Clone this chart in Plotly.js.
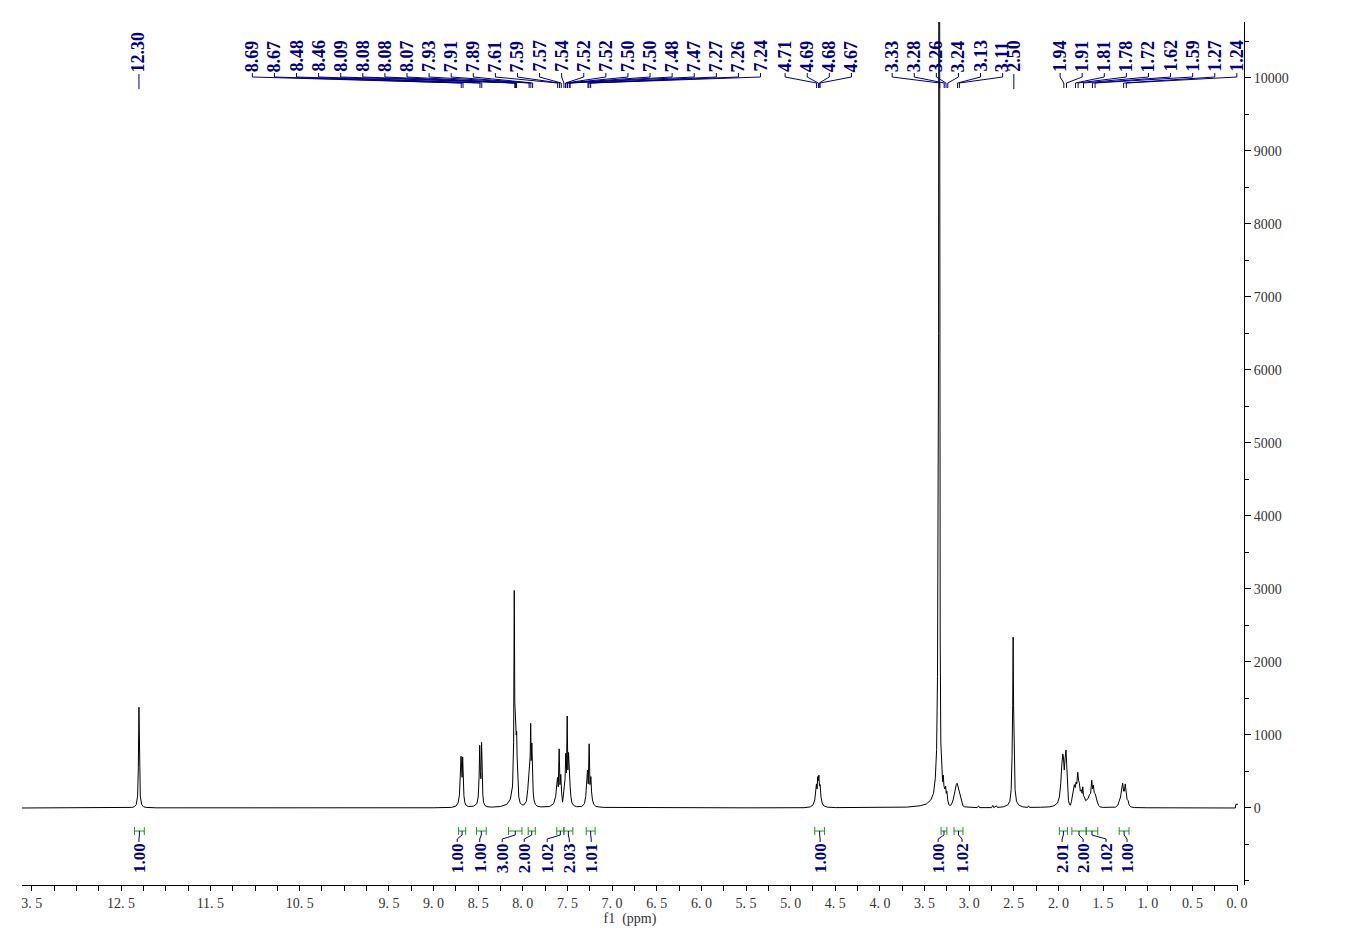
<!DOCTYPE html>
<html>
<head>
<meta charset="utf-8">
<script src="https://cdn.plot.ly/plotly-3.0.1.min.js"></script>
<style>html,body{margin:0;padding:0;background:#fff;}#chart{width:1348px;height:952px;}</style>
</head>
<body>
<div id="chart"></div>
<script>
// ---- spectrum data: [ppm, intensity] ----
const sig12 = [[13.61,0],[12.45,2],[12.38,8],[12.35,18],[12.33,48],[12.315,165],[12.307,550],[12.30,1380],[12.293,550],[12.285,165],[12.27,48],[12.25,18],[12.22,8],[12.10,2]];
const sigArom = [[9.00,3],[8.80,8],[8.75,25],[8.725,70],[8.71,180],[8.70,420],[8.692,710],[8.686,560],[8.68,420],[8.674,700],[8.668,420],[8.66,170],[8.65,75],[8.635,35],[8.61,20],
[8.55,25],[8.515,60],[8.50,150],[8.49,420],[8.483,860],[8.477,500],[8.47,400],[8.462,900],[8.456,500],[8.448,180],[8.44,80],[8.425,35],[8.40,18],[8.35,12],
[8.25,20],[8.18,50],[8.14,120],[8.115,300],[8.103,900],[8.096,2980],[8.090,1450],[8.085,1320],[8.079,1330],[8.074,1000],[8.069,1050],[8.064,700],[8.055,300],[8.045,150],[8.03,70],[8.01,45],
[7.99,40],[7.96,90],[7.945,250],[7.935,430],[7.928,450],[7.918,700],[7.912,1160],[7.906,650],[7.899,890],[7.892,450],[7.884,220],[7.875,110],[7.86,50],[7.84,25],[7.80,15],
[7.70,20],[7.655,60],[7.632,160],[7.62,300],[7.612,420],[7.603,290],[7.593,810],[7.584,320],[7.575,460],[7.566,220],[7.555,80],[7.545,180],[7.535,320],[7.527,400],[7.519,750],[7.511,480],[7.503,1260],[7.496,520],[7.488,760],[7.479,360],[7.470,290],[7.462,160],[7.45,70],[7.43,35],[7.40,18],
[7.34,20],[7.31,60],[7.295,160],[7.285,330],[7.276,520],[7.267,330],[7.257,880],[7.248,320],[7.238,430],[7.23,220],[7.22,110],[7.205,50],[7.18,20],[7.10,8],[6.5,2],[5.5,2]];
const sig47 = [[4.85,4],[4.78,15],[4.75,40],[4.73,110],[4.718,250],[4.711,330],[4.704,260],[4.697,430],[4.690,370],[4.684,450],[4.677,300],[4.670,320],[4.66,150],[4.648,70],[4.63,30],[4.59,12],[4.50,5],[4.0,5],[3.70,12]];
const sig33 = [[3.55,30],[3.48,55],[3.43,110],[3.40,200],[3.38,400],[3.365,800],[3.355,1800],[3.348,3500],[3.343,6500],[3.337,20000],[3.331,6000],[3.325,2300],[3.318,900],[3.308,450],[3.298,360],[3.29,450],[3.283,300],[3.272,260],[3.264,300],[3.257,200],[3.25,230],[3.24,110],[3.228,45],[3.215,35],[3.20,45],[3.18,110],[3.16,250],[3.145,320],[3.135,340],[3.125,290],[3.115,270],[3.10,180],[3.085,80],[3.07,30],[3.05,15],[3.00,8],[2.91,5],[2.895,30],[2.885,5],[2.75,5],[2.735,35],[2.725,5],[2.705,20],[2.695,30],[2.685,8]];
const sig25 = [[2.62,15],[2.57,40],[2.545,90],[2.53,250],[2.52,700],[2.513,1400],[2.508,2340],[2.503,1400],[2.496,700],[2.486,250],[2.47,90],[2.445,40],[2.40,15],[2.345,8],[2.335,30],[2.325,8],[2.20,10]];
const sigAliph = [[2.10,15],[2.05,30],[2.01,70],[1.99,150],[1.975,330],[1.962,600],[1.952,740],[1.945,700],[1.935,520],[1.925,690],[1.916,795],[1.908,600],[1.898,250],[1.888,100],[1.875,45],[1.866,40],[1.855,90],[1.84,200],[1.83,290],[1.822,320],[1.812,280],[1.803,355],[1.795,330],[1.784,490],[1.775,380],[1.766,340],[1.755,230],[1.743,250],[1.735,200],[1.728,290],[1.72,170],[1.71,150],[1.695,100],[1.683,110],[1.668,130],[1.654,180],[1.64,200],[1.627,380],[1.618,260],[1.609,315],[1.60,210],[1.59,200],[1.578,120],[1.564,80],[1.55,35],[1.535,15],[1.50,8],[1.40,6],[1.36,12],[1.335,40],[1.318,110],[1.305,150],[1.292,260],[1.281,340],[1.27,230],[1.262,230],[1.252,330],[1.243,220],[1.232,120],[1.22,100],[1.208,40],[1.19,15],[1.15,6],[1.0,3],[0.02,0],[0.013,50],[-0.011,50]];

// ---- peak picking labels ----
const peakLabels = ['12.30','8.69','8.67','8.48','8.46','8.09','8.08','8.08','8.07','7.93','7.91','7.89','7.61','7.59','7.57','7.54','7.52','7.52','7.50','7.50','7.48','7.47','7.27','7.26','7.24','4.71','4.69','4.68','4.67','3.33','3.28','3.26','3.24','3.13','3.11','2.50','1.94','1.91','1.81','1.78','1.72','1.62','1.59','1.27','1.24'];
const peakGroupSizes = [1, 24, 4, 6, 1, 9];
const peakGroupStart = [12.30, 11.03, 5.062, 3.863, 2.50, 1.982];

// ---- integrals ----
const intFrom = [12.35, 8.72, 8.52, 8.16, 7.94, 7.62, 7.54, 7.29, 4.73, 3.315, 3.17, 1.99, 1.85, 1.69, 1.32];
const intTo   = [12.24, 8.64, 8.41, 8.01, 7.86, 7.54, 7.44, 7.19, 4.62, 3.25, 3.07, 1.90, 1.69, 1.56, 1.21];
const intValues = ['1.00','1.00','1.00','3.00','2.00','1.02','2.03','1.01','1.00','1.00','1.02','2.01','2.00','1.02','1.00'];
const intLabelPos = [12.30, 8.735, 8.483, 8.231, 7.984, 7.727, 7.48, 7.234, 4.67, 3.348, 3.08, 1.96, 1.724, 1.467, 1.232];

// ---- axis ticks ----
const xTickVals = [13.5,13,12.5,12,11.5,11,10.5,10,9.5,9,8.5,8,7.5,7,6.5,6,5.5,5,4.5,4,3.5,3,2.5,2,1.5,1,0.5,0];
const xTickText = ['3. 5','','12. 5','','11. 5','','10. 5','','9. 5','9. 0','8. 5','8. 0','7. 5','7. 0','6. 5','6. 0','5. 5','5. 0','4. 5','4. 0','3. 5','3. 0','2. 5','2. 0','1. 5','1. 0','0. 5','0. 0'];
const yTickVals = [0,1000,2000,3000,4000,5000,6000,7000,8000,9000,10000];
const yTickText = ['0','1000','2000','3000','4000','5000','6000','7000','8000','9000','10000'];

const spectrum = [].concat(sig12, sigArom, sig47, sig33, sig25, sigAliph);

// geometry helpers (layout only)
const H = 952, T = 22, B = 885;
const py = Y => (B - Y) / (B - T);
const NAVY = '#000080', GREEN = '#1a9a1a';
const LABEL_STEP = 0.2475;

const shapes = [];
const annotations = [];

let k = 0;
peakGroupSizes.forEach((n, g) => {
  for (let i = 0; i < n; i++, k++) {
    const txt = peakLabels[k];
    const pk = parseFloat(txt);
    const lx = peakGroupStart[g] - i * LABEL_STEP;
    annotations.push({x: lx, xref: 'x', y: py(73), yref: 'paper', text: txt, textangle: -90,
      showarrow: false, xanchor: 'center', yanchor: 'bottom', borderpad: 0,
      font: {family: 'Liberation Serif', size: 18, color: NAVY, weight: 'bold'}});
    let path;
    if (n === 1) path = `M ${pk},${py(74)} L ${pk},${py(89)}`;
    else path = `M ${lx},${py(73)} L ${lx},${py(77)} L ${pk},${py(83)} L ${pk},${py(88)}`;
    shapes.push({type: 'path', xref: 'x', yref: 'paper', path: path, line: {color: NAVY, width: 1}});
  }
});

intValues.forEach((v, i) => {
  const a = intFrom[i], b = intTo[i], c = (a + b) / 2, lx = intLabelPos[i];
  shapes.push({type: 'path', xref: 'x', yref: 'paper',
    path: `M ${a},${py(827)} L ${a},${py(835)} M ${a},${py(831)} L ${b},${py(831)} M ${b},${py(827)} L ${b},${py(835)}`,
    line: {color: GREEN, width: 1}});
  shapes.push({type: 'path', xref: 'x', yref: 'paper',
    path: `M ${c},${py(831)} L ${c},${py(835)} L ${lx},${py(839)} L ${lx},${py(842)}`,
    line: {color: NAVY, width: 1}});
  annotations.push({x: lx, xref: 'x', y: py(842), yref: 'paper', text: v, textangle: -90,
    showarrow: false, xanchor: 'center', yanchor: 'top', borderpad: 0,
    font: {family: 'Liberation Serif', size: 17, color: NAVY, weight: 'bold'}});
});

const trace = {
  x: spectrum.map(p => p[0]),
  y: spectrum.map(p => p[1]),
  type: 'scatter', mode: 'lines',
  line: {color: '#000', width: 1},
  hoverinfo: 'skip'
};

const tickFont = {family: 'Liberation Serif', size: 14, color: '#333'};
const layout = {
  width: 1348, height: 952,
  margin: {l: 22, r: 104, t: T, b: H - B, pad: 0},
  paper_bgcolor: '#fff', plot_bgcolor: '#fff',
  showlegend: false,
  xaxis: {
    domain: [0, 0.9951], range: [13.61, -0.011], autorange: false,
    tickmode: 'array', tickvals: xTickVals, ticktext: xTickText,
    ticks: 'outside', ticklen: 5, tickcolor: '#000', tickwidth: 1,
    minor: {tickmode: 'linear', tick0: 0, dtick: 0.25, ticks: 'outside', ticklen: 5, tickcolor: '#000', showgrid: false},
    showline: true, linecolor: '#000', linewidth: 1, showgrid: false, zeroline: false,
    tickfont: tickFont,
    title: {text: 'f1  (ppm)', font: {family: 'Liberation Serif', size: 14, color: '#333'}, standoff: 2}
  },
  yaxis: {
    anchor: 'free', position: 1, side: 'right',
    range: [-1055, 10767], autorange: false,
    tickmode: 'array', tickvals: yTickVals, ticktext: yTickText,
    ticks: 'outside', ticklen: 6, tickcolor: '#000', tickwidth: 1,
    minor: {tickmode: 'linear', tick0: 0, dtick: 500, ticks: 'outside', ticklen: 4, tickcolor: '#000', showgrid: false},
    showline: true, linecolor: '#000', linewidth: 1, showgrid: false, zeroline: false,
    tickfont: tickFont
  },
  shapes: shapes,
  annotations: annotations
};

Plotly.newPlot('chart', [trace], layout, {displayModeBar: false, staticPlot: true});
</script>
</body>
</html>
